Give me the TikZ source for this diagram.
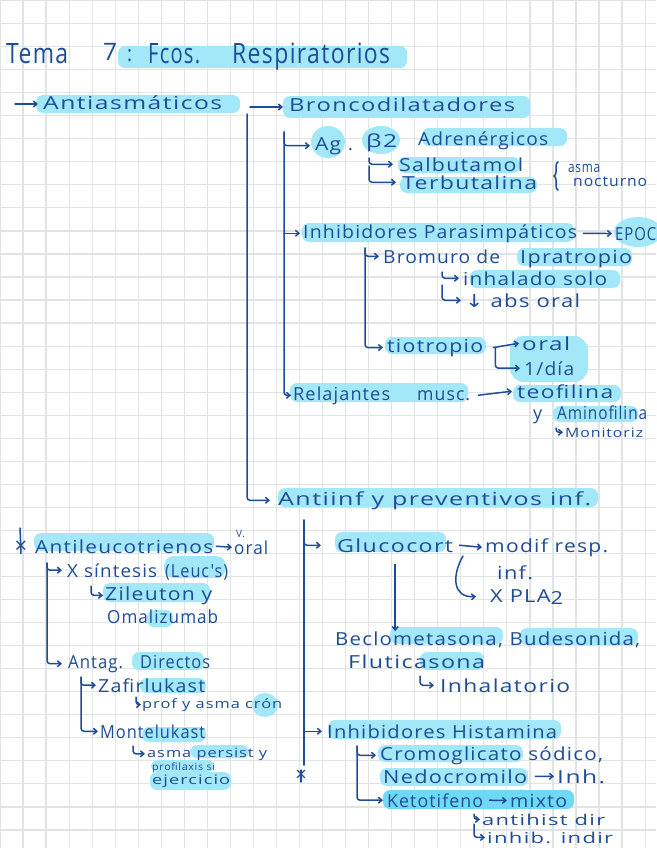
\documentclass[tikz,border=0pt]{standalone}
\usepackage{fontspec}
\usepackage{graphicx}
\usetikzlibrary{arrows.meta,decorations.pathreplacing,calc}
\newfontfamily\hwf[LetterSpace=6]{Open Sans}
\newfontfamily\djf{DejaVu Sans}
\definecolor{ink}{HTML}{1F4C97}
\definecolor{hlc}{HTML}{A3E8F8}
\definecolor{hlcd}{HTML}{6FD8F4}
\definecolor{gridc}{HTML}{E0E4E4}
\newcommand\hw[2]{\resizebox{#1pt}{\height}{#2}}
\begin{document}
\begin{tikzpicture}[x=1pt,y=-1pt,
  tx/.style={anchor=base west, inner sep=0pt, text=ink, font=\hwf\fontsize{18}{20}\selectfont},
  txs/.style={tx, font=\hwf\fontsize{13}{15}\selectfont},
  txm/.style={tx, font=\hwf\fontsize{15}{17}\selectfont},
  txxs/.style={tx, font=\hwf\fontsize{10}{12}\selectfont},
  txt/.style={tx, font=\hwf\fontsize{28}{30}\selectfont},
  starn/.style={inner sep=0pt, text=ink, font=\hwf\fontsize{22}{24}\selectfont},
  hl/.style={fill=hlc, rounded corners=7pt},
  hld/.style={fill=hlcd, rounded corners=7pt},
  ln/.style={draw=ink, line width=1.5pt, line cap=round, line join=round},
  ar/.style={ln, -{Straight Barb[length=3.5pt,width=6pt]}},
  hk/.style={ar, rounded corners=3pt},
  gl/.style={draw=gridc, line width=1.2pt}]
\useasboundingbox (0,0) rectangle (656,848);
\fill[white] (0,0) rectangle (656,848);
\foreach \k in {0,...,28} \draw[gl] (\k*23.04,0) -- (\k*23.04,848);
\foreach \k in {0,...,36} \draw[gl] (0,0.5+\k*23.04) -- (656,0.5+\k*23.04);

% ---------- highlights ----------
\fill[hl] (118,46) rectangle (407,68);
\fill[hl] (36,95) rectangle (240,113);
\fill[hl] (283,96) rectangle (530,118);
\fill[hlc] (328,142) ellipse [x radius=17, y radius=16];
\fill[hlc] (381,140) ellipse [x radius=19, y radius=14];
\fill[hl] (422,128) rectangle (567,146);
\fill[hl] (398,157) rectangle (520,173);
\fill[hl] (400,177) rectangle (537,193);
\fill[hl] (302,223) rectangle (574,242);
\fill[hlc] (638,232) ellipse [x radius=24, y radius=15];
\fill[hl] (517,248) rectangle (632,266);
\fill[hl] (470,270) rectangle (620,288);
\fill[hl] (385,337) rectangle (486,354);
\fill[hlc, rounded corners=14pt] (510,336) rectangle (588,382);
\fill[hl] (290,383) rectangle (468,402);
\fill[hl] (513,385) rectangle (621,402);
\fill[hl] (553,406) rectangle (638,422);
\fill[hl] (278,488) rectangle (598,507);
\fill[hl] (34,533) rectangle (214,551);
\fill[hl, rounded corners=10pt] (164,556) rectangle (226,578);
\fill[hl] (103,583) rectangle (210,602);
\fill[hl] (147,610) rectangle (173,627);
\fill[hl] (132,652) rectangle (204,670);
\fill[hl] (140,678) rectangle (206,693);
\fill[hlc] (265,705) ellipse [x radius=13, y radius=12];
\fill[hl] (142,727) rectangle (206,742);
\fill[hl] (190,745) rectangle (249,758);
\fill[hl] (151,760) rectangle (214,772);
\fill[hl] (150,772) rectangle (231,790);
\fill[hl] (335,532) rectangle (446,552);
\fill[hl] (390,627) rectangle (503,644);
\fill[hl] (520,628) rectangle (638,645);
\fill[hl] (420,652) rectangle (484,670);
\fill[hl] (328,720) rectangle (561,739);
\fill[hl] (378,745) rectangle (523,762);
\fill[hl] (380,768) rectangle (528,786);
\fill[hld] (383,790) rectangle (574,809);

% ---------- title ----------
\node[txt] (tema) at (6,64) {\hw{62}{Tema}};
\node[txt, font=\hwf\fontsize{24}{26}\selectfont] (siete) at (103,61) {\hw{14}{7}};
\node[txt, font=\hwf\fontsize{22}{24}\selectfont] (colon) at (127,62) {\hw{5}{:}};
\node[txt] (fcos) at (148,64) {\hw{52}{Fcos.}};
\node[txt] (resp) at (232,64) {\hw{158}{Respiratorios}};

% ---------- upper tree ----------
\coordinate (a0) at (15,104);
\node[tx] (antiasm) at (43,110) {\hw{179}{Antiasmáticos}};
\coordinate (aB) at (250,107);
\node[tx] (bronco) at (289,112) {\hw{226}{Broncodilatadores}};
\coordinate (m0) at (247,114);

\coordinate (b0) at (284,132);
\node[tx] (ag) at (315,150) {\hw{26}{Ag}};
\node[tx] (agdot) at (348,150) {.};
\node[tx] (beta) at (366,147) {\hw{31}{β2}};
\node[tx] (adren) at (418,146) {\hw{130}{Adrenérgicos}};
\coordinate (s0) at (369,158);
\node[tx] (salb) at (399,171) {\hw{124}{Salbutamol}};
\coordinate (t0) at (369,166);
\node[tx] (terb) at (402,189) {\hw{135}{Terbutalina}};
\node[txm] (asma) at (568,172) {\hw{32}{asma}};
\node[txm] (noct) at (573,186) {\hw{74}{nocturno}};

\node[tx] (inhp) at (303,238) {\hw{274}{Inhibidores Parasimpáticos}};
\node[tx] (epoc) at (615,240) {\hw{41}{EPOC}};
\coordinate (p0) at (365,248);
\node[tx] (brom) at (383,263) {\hw{117}{Bromuro de}};
\node[tx] (iprat) at (520,263) {\hw{112}{Ipratropio}};
\coordinate (i0) at (442,272);
\node[tx] (inhsolo) at (463,285) {\hw{144}{inhalado solo}};
\coordinate (i1) at (442,285);
\node[tx] (abs) at (465,307) {\hw{115}{{\djf ↓} abs oral}};
\node[tx] (tio) at (387,352) {\hw{96}{tiotropio}};
\node[tx] (oral1) at (522,350) {\hw{48}{oral}};
\node[tx] (dia) at (524,375) {\hw{50}{1/día}};

\node[tx] (relaj) at (293,400) {\hw{97}{Relajantes}};
\node[tx] (musc) at (417,400) {\hw{53}{musc.}};
\node[tx] (teof) at (517,398) {\hw{96}{teofilina}};
\node[tx] (ylet) at (533,419) {y};
\node[tx] (amino) at (557,419) {\hw{90}{Aminofilina}};
\coordinate (mo0) at (556,428);
\node[txs] (monit) at (565,437) {\hw{78}{Monitoriz}};

\node[tx] (antiinf) at (278,505) {\hw{313}{Antiinf y preventivos inf.}};

% ---------- left column ----------
\coordinate (st1) at (20,528);
\node[starn] (star1) at (21,547) {×};
\node[tx] (antileu) at (35,553) {\hw{178}{Antileucotrienos}};
\node[txxs] (vdot) at (236,537) {V.};
\node[tx] (voral) at (234,554) {\hw{34}{oral}};
\coordinate (l0) at (47,563);
\node[tx] (synt) at (67,577) {\hw{90}{X síntesis}};
\node[tx] (leuc) at (165,577) {\hw{63}{(Leuc's)}};
\coordinate (z0) at (91,586);
\node[tx] (zil) at (105,600) {\hw{107}{Zileuton y}};
\node[tx] (oma) at (107,623) {\hw{111}{Omalizumab}};
\node[tx] (antag) at (68,668) {\hw{55}{Antag.}};
\node[tx] (direc) at (140,668) {\hw{70}{Directos}};
\coordinate (k0) at (81,677);
\node[tx] (zaf) at (98,692) {\hw{107}{Zafirlukast}};
\coordinate (pr0) at (136,697);
\node[txs] (prof) at (142,708) {\hw{140}{prof y asma crón}};
\node[tx] (mont) at (100,738) {\hw{105}{Montelukast}};
\coordinate (ap0) at (133,746);
\node[txs] (apers) at (147,757) {\hw{120}{asma persist y}};
\node[txxs] (profil) at (152,770) {\hw{63}{profilaxis si}};
\node[txs] (ejer) at (152,784) {\hw{78}{ejercicio}};

% ---------- right lower column ----------
\coordinate (r0) at (304,520);
\node[tx] (glu) at (337,552) {\hw{116}{Glucocort}};
\node[tx] (modif) at (485,552) {\hw{123}{modif resp.}};
\node[tx] (inf) at (497,579) {\hw{36}{inf.}};
\coordinate (c0) at (463,556);
\node[tx] (pla) at (490,602) {\hw{73}{X PLA\raisebox{-2pt}{2}}};
\node[tx] (becl) at (335,645) {\hw{305}{Beclometasona, Budesonida,}};
\node[tx] (fluti) at (348,668) {\hw{137}{Fluticasona}};
\coordinate (f0) at (420,676);
\node[tx] (inhal) at (440,692) {\hw{130}{Inhalatorio}};
\node[tx] (inhh) at (327,738) {\hw{230}{Inhibidores Histamina}};
\node[starn, font=\hwf\fontsize{20}{22}\selectfont] (star2) at (301,776) {×};
\coordinate (h0) at (357,746);
\node[tx] (crom) at (380,760) {\hw{223}{Cromoglicato sódico,}};
\node[tx] (ned) at (383,783) {\hw{144}{Nedocromilo}};
\node[tx] (inh2) at (557,783) {\hw{48}{Inh.}};
\node[tx] (keto) at (387,807) {\hw{96}{Ketotifeno}};
\node[tx] (mixto) at (510,807) {\hw{57}{mixto}};
\coordinate (x0) at (474,814);
\node[txm] (ahist) at (482,825) {\hw{123}{antihist dir}};
\coordinate (x1) at (474,824);
\node[txm] (iind) at (487,843) {\hw{126}{inhib. indir}};

% ---------- connectors ----------
\draw[ar] (a0) -- ([xshift=-5pt]antiasm.west |- a0);
\draw[ar] (aB) -- ([xshift=-6pt]bronco.west |- aB);
\draw[hk] (m0) |- ([xshift=-8pt]antiinf.west);
\draw[hk] (b0) |- ([xshift=-5pt]ag.west);
\draw[hk] (b0) |- ([xshift=-2pt]relaj.west);
\draw[ar] (b0 |- inhp.west) -- ([xshift=-3pt]inhp.west);
\draw[ar] ([xshift=6pt]inhp.east) -- ([xshift=-3pt]epoc.west);
\draw[hk] (s0) |- ([xshift=-6pt]salb.west);
\draw[hk] (t0) |- ([xshift=-6pt]terb.west);
\draw[ln, decorate, decoration={brace, amplitude=4pt}] (558,190) -- (558,162);
\draw[hk] (p0) |- ([xshift=-4pt]brom.west);
\draw[hk] (p0) |- ([xshift=-4pt]tio.west);
\draw[hk] (i0) |- ([xshift=-4pt]inhsolo.west);
\draw[hk] (i1) |- ([xshift=-4pt]abs.west);
\draw[ar] ([xshift=10pt]tio.east) -- ([xshift=-3pt]oral1.west);
\draw[hk] ([xshift=12pt]tio.east) |- ([xshift=-4pt]dia.west);
\draw[ar] ([xshift=8pt]musc.east) -- ([xshift=-5pt]teof.west);
\draw[hk] (mo0) |- ([xshift=-2pt]monit.west);

\draw[ln] (st1) -- (star1.south);
\draw[ar] ([xshift=3pt]antileu.east) -- ([xshift=-2pt]voral.west);
\draw[hk] (l0) |- ([xshift=-5pt]synt.west);
\draw[hk] (l0) |- ([xshift=-6pt]antag.west);
\draw[hk] (z0) |- ([xshift=-2pt]zil.west);
\draw[hk] (k0) |- ([xshift=-2pt]zaf.west);
\draw[hk] (k0) |- ([xshift=-2pt]mont.west);
\draw[hk] (pr0) |- ([xshift=-1pt]prof.west);
\draw[hk] (ap0) |- ([xshift=-2pt]apers.west);

\draw[hk] (r0) |- ([xshift=-16pt]glu.west);
\draw[ln] (r0) -- ([yshift=5pt]r0 |- star2.north);
\draw[ln] (star2.north) -- (star2.south);
\draw[ar] (r0 |- inhh.west) -- ([xshift=-5pt]inhh.west);
\draw[ar] ([xshift=6pt]glu.east) -- ([xshift=-3pt]modif.west);
\draw[ar] (c0) .. controls (452,575) and (452,598) .. ([xshift=-14pt]pla.west);
\draw[ar] ([yshift=-12pt]glu.south) -- (glu.south |- becl.north);
\draw[hk] (f0) |- ([xshift=-6pt]inhal.west);
\draw[hk] (h0) |- ([xshift=-4pt]crom.west);
\draw[hk] (h0) |- ([xshift=-4pt]keto.west);
\draw[ar] ([xshift=8pt]ned.east) -- ([xshift=-3pt]inh2.west);
\draw[ar] ([xshift=6pt]keto.east) -- ([xshift=-3pt]mixto.west);
\draw[hk] (x0) |- ([xshift=-2pt]ahist.west);
\draw[hk] (x1) |- ([xshift=-2pt]iind.west);
\end{tikzpicture}
\end{document}
